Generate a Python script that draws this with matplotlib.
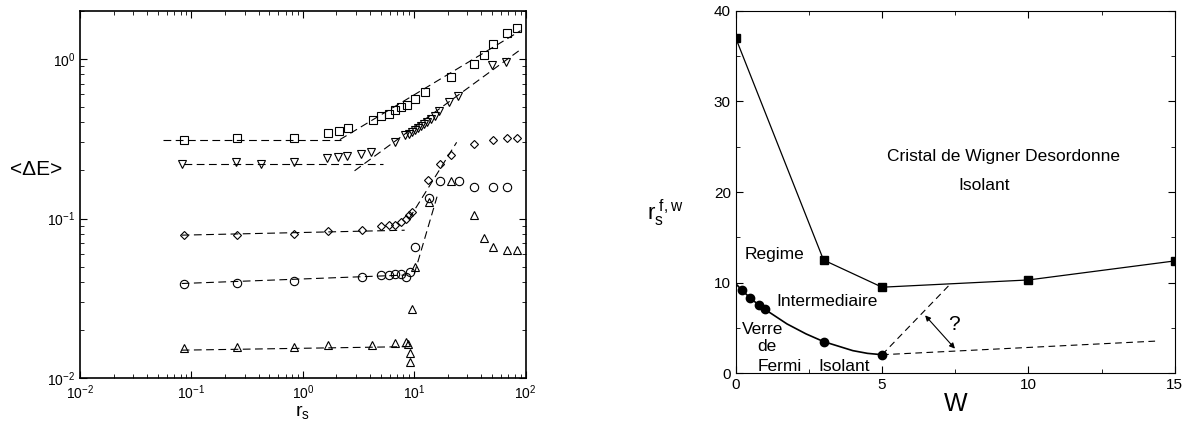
import matplotlib
matplotlib.use("Agg")
import matplotlib.pyplot as plt
from matplotlib.ticker import LogLocator, MultipleLocator, NullFormatter

plt.rcParams['font.family'] = ['Liberation Sans', 'DejaVu Sans']
plt.rcParams['mathtext.fontset'] = 'custom'
plt.rcParams['mathtext.rm'] = 'Liberation Sans'
plt.rcParams['mathtext.it'] = 'Liberation Sans:italic'

# ---- left panel data: <dE> vs r_s ----
sq_x = [0.085, 0.254, 0.84, 1.69, 2.1, 2.54, 4.22, 5.06, 5.89, 6.73, 7.58, 8.67,
        10.07, 12.6, 21.2, 34.1, 42.6, 51.1, 67.3, 84]
sq_y = [0.312, 0.321, 0.321, 0.343, 0.353, 0.367, 0.412, 0.436, 0.453, 0.475, 0.496,
        0.516, 0.557, 0.616, 0.768, 0.93, 1.05, 1.24, 1.45, 1.56]

dn_x = [0.083, 0.249, 0.418, 0.83, 1.66, 2.07, 2.50, 3.31, 4.13, 6.68, 8.34, 8.9, 9.5,
        10.1, 10.8, 11.5, 12.2, 13.0, 14.0, 15.2, 16.5, 20.5, 24.7, 50.2, 66.1]
dn_y = [0.219, 0.226, 0.221, 0.226, 0.241, 0.243, 0.245, 0.255, 0.261, 0.301, 0.332,
        0.340, 0.350, 0.360, 0.370, 0.380, 0.390, 0.400, 0.420, 0.440, 0.47, 0.536,
        0.582, 0.91, 0.953]

di_x = [0.085, 0.254, 0.84, 1.69, 3.38, 5.06, 5.89, 6.73, 7.58, 8.47, 9.0, 9.5,
        13.4, 16.9, 21.2, 34.1, 51.1, 67.3, 84]
di_y = [0.0787, 0.0794, 0.0806, 0.0833, 0.0853, 0.090, 0.0916, 0.0916, 0.0953, 0.100,
        0.105, 0.110, 0.175, 0.221, 0.249, 0.291, 0.312, 0.318, 0.321]

ci_x = [0.085, 0.254, 0.84, 3.38, 5.06, 5.89, 6.73, 7.58, 8.47, 9.2, 10.07, 13.5,
        16.9, 25.0, 34.1, 51.1, 67.3]
ci_y = [0.0392, 0.0395, 0.0406, 0.0432, 0.044, 0.0444, 0.0449, 0.0449, 0.0432, 0.0464,
        0.0665, 0.135, 0.171, 0.173, 0.158, 0.157, 0.158]

up_x = [0.085, 0.254, 0.84, 1.69, 4.16, 6.68, 8.47, 8.8, 9.1, 9.2, 9.6, 10.07, 13.5,
        21.2, 34.1, 42.6, 51.1, 67.3, 84]
up_y = [0.0154, 0.0156, 0.0158, 0.0162, 0.0162, 0.0167, 0.0168, 0.0163, 0.0143, 0.0127,
        0.027, 0.0499, 0.127, 0.173, 0.105, 0.076, 0.0665, 0.064, 0.064]

# dashed guide segments (endpoints)
fits = [
    ([0.0557, 2.2], [0.309, 0.309]),
    ([2.15, 90.0], [0.312, 1.50]),
    ([0.085, 5.27], [0.221, 0.221]),
    ([2.91, 86.5], [0.199, 1.12]),
    ([0.0817, 8.2], [0.0787, 0.0845]),
    ([9.0, 24.0], [0.100, 0.300]),
    ([0.0817, 8.5], [0.0392, 0.0443]),
    ([10.0, 16.0], [0.045, 0.137]),
    ([0.0817, 9.8], [0.0150, 0.0158]),
]

# ---- right panel data: phase diagram ----
w_sq = [0, 3, 5, 10, 15]
r_sq = [37, 12.5, 9.5, 10.3, 12.4]
w_ci = [0.2, 0.5, 0.8, 1.0, 3.0, 5.0]
r_ci = [9.2, 8.3, 7.5, 7.05, 3.5, 2.05]
w_curve = [0, 0.2, 0.5, 0.8, 1.0, 1.75, 2.4, 3.0, 3.5, 4.0, 4.5, 5.0]
r_curve = [9.9, 9.2, 8.3, 7.5, 7.05, 5.45, 4.35, 3.5, 3.0, 2.5, 2.2, 2.05]
w_dash1 = [5.0, 7.3]
r_dash1 = [2.05, 9.75]
w_dash2 = [5.0, 14.4]
r_dash2 = [2.05, 3.56]

fig = plt.figure(figsize=(11.84, 4.23), dpi=100)
ax1 = fig.add_axes([0.0676, 0.1057, 0.3764, 0.869])
ax2 = fig.add_axes([0.6214, 0.1175, 0.3708, 0.857])

mk = dict(mfc='none', mec='black', mew=0.8, ls='none', ms=6)
ax1.plot(sq_x, sq_y, marker='s', **mk)
ax1.plot(dn_x, dn_y, marker='v', **mk)
ax1.plot(di_x, di_y, marker='D', **dict(mk, ms=4.5))
ax1.plot(ci_x, ci_y, marker='o', **mk)
ax1.plot(up_x, up_y, marker='^', **mk)
for fx, fy in fits:
    ax1.plot(fx, fy, ls=(0, (7, 4)), color='black', lw=0.8)

ax1.set_xscale('log')
ax1.set_yscale('log')
ax1.set_xlim(0.01, 100)
ax1.set_ylim(0.01, 2.0)
ax1.xaxis.set_major_locator(LogLocator(base=10, numticks=10))
ax1.yaxis.set_major_locator(LogLocator(base=10, numticks=10))
ax1.xaxis.set_minor_locator(LogLocator(base=10, subs=range(2, 10), numticks=20))
ax1.yaxis.set_minor_locator(LogLocator(base=10, subs=range(2, 10), numticks=20))
ax1.xaxis.set_minor_formatter(NullFormatter())
ax1.yaxis.set_minor_formatter(NullFormatter())
ax1.tick_params(which='both', direction='in', top=True, right=True, labelsize=10)
ax1.tick_params(which='major', length=5)
ax1.tick_params(which='minor', length=3)
for s in ax1.spines.values():
    s.set_linewidth(1.2)
ax1.set_xlabel(r'$\mathregular{r_s}$', fontsize=14, labelpad=1)
ax1.set_ylabel('<ΔE>', fontsize=15, rotation=0, ha='center', va='center')
ax1.yaxis.set_label_coords(-0.099, 0.567)

ax2.plot(w_sq, r_sq, color='black', lw=0.9, marker='s', ms=6)
ax2.plot(w_curve, r_curve, color='black', lw=1.2)
ax2.plot(w_ci, r_ci, ls='none', marker='o', color='black', ms=6)
ax2.plot(w_dash1, r_dash1, ls=(0, (6, 4)), color='black', lw=0.8)
ax2.plot(w_dash2, r_dash2, ls=(0, (6, 4)), color='black', lw=0.8)
ax2.annotate('', xy=(6.47, 6.39), xytext=(7.49, 2.72),
             arrowprops=dict(arrowstyle='<|-|>', color='black', lw=0.8,
                             mutation_scale=8, shrinkA=0, shrinkB=0))

ax2.set_xlim(0, 15)
ax2.set_ylim(0, 40)
ax2.xaxis.set_major_locator(MultipleLocator(5))
ax2.xaxis.set_minor_locator(MultipleLocator(2.5))
ax2.yaxis.set_major_locator(MultipleLocator(10))
ax2.yaxis.set_minor_locator(MultipleLocator(5))
ax2.tick_params(which='both', direction='in', top=True, right=True, labelsize=11)
ax2.tick_params(which='major', length=5)
ax2.tick_params(which='minor', length=3)
ax2.set_xlabel('W', fontsize=18, labelpad=0)
ax2.set_ylabel(r'$\mathregular{r_s^{\ f,w}}$', fontsize=16, rotation=0,
               ha='center', va='center')
ax2.yaxis.set_label_coords(-0.16, 0.44)

tk = dict(fontsize=12.5, ha='center', va='center')
ax2.text(9.14, 23.9, 'Cristal de Wigner Desordonne', **tk)
ax2.text(8.5, 20.7, 'Isolant', **tk)
ax2.text(1.31, 13.1, 'Regime', **tk)
ax2.text(3.13, 7.96, 'Intermediaire', **tk)
ax2.text(0.93, 4.84, 'Verre', **tk)
ax2.text(1.06, 3.0, 'de', **tk)
ax2.text(1.5, 0.8, 'Fermi', **tk)
ax2.text(3.69, 0.8, 'Isolant', **tk)
ax2.text(7.46, 5.4, '?', fontsize=15, ha='center', va='center')

fig.savefig('out.png', dpi=100)
